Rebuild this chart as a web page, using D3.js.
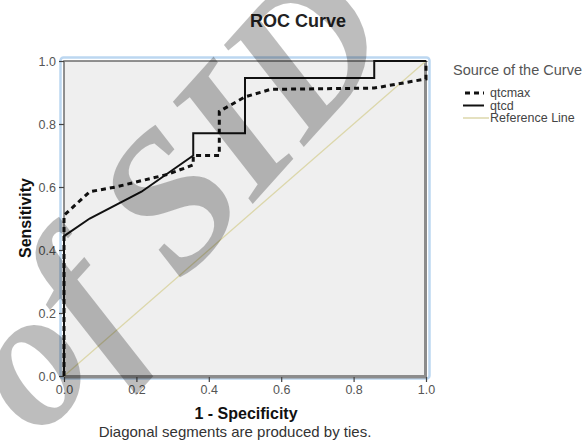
<!DOCTYPE html>
<html>
<head>
<meta charset="utf-8">
<script src="https://cdn.jsdelivr.net/npm/d3@7"></script>
<style>
  body { margin: 0; background: #fff; }
  svg { display: block; font-family: "Liberation Sans", Arial, sans-serif; }
</style>
</head>
<body>
<div class="d3"></div>
<script>
// values (1 - specificity, sensitivity)
var qtcmaxFpr  = [0, 0,    0.071, 0.143, 0.214, 0.286, 0.357, 0.357, 0.429, 0.429, 0.5,   0.571, 0.857, 1,     1];
var qtcmaxSens = [0, 0.51, 0.585, 0.60,  0.62,  0.64,  0.67,  0.70,  0.70,  0.84,  0.886, 0.91,  0.914, 0.943, 1];
var qtcdFpr    = [0, 0,     0.071, 0.214, 0.357, 0.357, 0.5,   0.5,   0.857, 0.857, 1];
var qtcdSens   = [0, 0.444, 0.50,  0.585, 0.70,  0.771, 0.771, 0.946, 0.946, 1,     1];
var refLine    = [0, 1];
var tickValues = [0, 0.2, 0.4, 0.6, 0.8, 1.0];
var seriesNames = ["qtcmax", "qtcd", "Reference Line"];

var W = 587, H = 442;
var margin = {top: 61, right: 161, bottom: 66, left: 64},
    width = W - margin.left - margin.right,
    height = H - margin.top - margin.bottom;

var x = d3.scaleLinear().domain([0, 1]).range([margin.left, margin.left + width]);
var y = d3.scaleLinear().domain([0, 1]).range([margin.top + height, margin.top]);

var svg = d3.select(".d3").append("svg")
    .attr("width", W)
    .attr("height", H);

// frame
svg.append("rect")
    .attr("x", margin.left - 3.5).attr("y", margin.top - 3.5)
    .attr("width", width + 7).attr("height", height + 6)
    .attr("rx", 3)
    .attr("fill", "none")
    .attr("stroke", "#bcd7f1")
    .attr("stroke-width", 2.5);

svg.append("rect")
    .attr("x", margin.left).attr("y", margin.top)
    .attr("width", width).attr("height", height)
    .attr("fill", "#efefef")
    .attr("stroke", "#6e6e6e")
    .attr("stroke-width", 1.5);

// thicker bottom / right borders
svg.append("path")
    .attr("d", "M" + (margin.left + width - 0.5) + "," + margin.top + "V" + (margin.top + height + 1) + "H" + margin.left)
    .attr("fill", "none")
    .attr("stroke", "#8c8c8c")
    .attr("stroke-width", 3);

// axes
var yAxis = d3.axisLeft(y).tickValues(tickValues).tickFormat(d3.format(".1f")).tickSize(5).tickPadding(3);
var xAxis = d3.axisBottom(x).tickValues(tickValues).tickFormat(d3.format(".1f")).tickSize(5).tickPadding(3);

var gy = svg.append("g").attr("transform", "translate(" + margin.left + ",0)").call(yAxis);
var gx = svg.append("g").attr("transform", "translate(0," + (margin.top + height + 1) + ")").call(xAxis);
[gy, gx].forEach(function(g) {
  g.select(".domain").remove();
  g.selectAll("line").attr("stroke", "#444").attr("stroke-width", 1.2);
  g.selectAll("text").attr("fill", "#555").style("font-size", "12.5px").style("font-family", "Liberation Sans, Arial, sans-serif");
});

// reference line
var line = d3.line()
    .x(function(d) { return x(d[0]); })
    .y(function(d) { return y(d[1]); });

svg.append("path")
    .datum(refLine.map(function(v) { return [v, v]; }))
    .attr("d", line)
    .attr("fill", "none")
    .attr("stroke", "#dcd7ab")
    .attr("stroke-width", 1.3);

svg.append("path")
    .datum(qtcdFpr.map(function(v, i) { return [v, qtcdSens[i]]; }))
    .attr("d", line)
    .attr("fill", "none")
    .attr("stroke", "#111")
    .attr("stroke-width", 2);

svg.append("path")
    .datum(qtcmaxFpr.map(function(v, i) { return [v, qtcmaxSens[i]]; }))
    .attr("d", line)
    .attr("fill", "none")
    .attr("stroke", "#111")
    .attr("stroke-width", 3)
    .attr("stroke-dasharray", "5,4");

// titles
svg.append("text")
    .attr("x", 298).attr("y", 27)
    .attr("text-anchor", "middle")
    .attr("fill", "#222")
    .style("font-size", "18px").style("font-weight", "bold")
    .text("ROC Curve");

svg.append("text")
    .attr("transform", "translate(31," + 218 + ") rotate(-90)")
    .attr("text-anchor", "middle")
    .attr("fill", "#111")
    .style("font-size", "16px").style("font-weight", "bold")
    .text("Sensitivity");

svg.append("text")
    .attr("x", 246).attr("y", 419)
    .attr("text-anchor", "middle")
    .attr("fill", "#111")
    .style("font-size", "16px").style("font-weight", "bold")
    .text("1 - Specificity");

svg.append("text")
    .attr("x", 235).attr("y", 437)
    .attr("text-anchor", "middle")
    .attr("fill", "#333")
    .style("font-size", "15px")
    .text("Diagonal segments are produced by ties.");

// legend
var legend = svg.append("g").attr("transform", "translate(453,0)");
legend.append("text")
    .attr("x", 0).attr("y", 75)
    .attr("fill", "#555")
    .style("font-size", "14.5px")
    .text("Source of the Curve");

var styles = [
  {w: 3, dash: "5,4", color: "#111", x0: 12, x1: 31},
  {w: 2, dash: null, color: "#111", x0: 10, x1: 31},
  {w: 1.5, dash: null, color: "#dcd7ab", x0: 10, x1: 36}
];
seriesNames.forEach(function(name, i) {
  var yy = 93 + i * 12.5;
  legend.append("line")
      .attr("x1", styles[i].x0).attr("x2", styles[i].x1)
      .attr("y1", yy).attr("y2", yy)
      .attr("stroke", styles[i].color)
      .attr("stroke-width", styles[i].w)
      .attr("stroke-dasharray", styles[i].dash);
  legend.append("text")
      .attr("x", 37).attr("y", yy + 4)
      .attr("fill", "#444")
      .style("font-size", "12.5px")
      .text(name);
});

// watermark of the source
svg.append("text")
    .attr("transform", "translate(40,440) rotate(-48)")
    .attr("fill", "#000")
    .attr("fill-opacity", 0.26)
    .style("font-family", "Liberation Serif, serif")
    .style("font-style", "italic")
    .style("font-weight", "bold")
    .style("font-size", "195px")
    .text("of SID");
</script>
</body>
</html>
